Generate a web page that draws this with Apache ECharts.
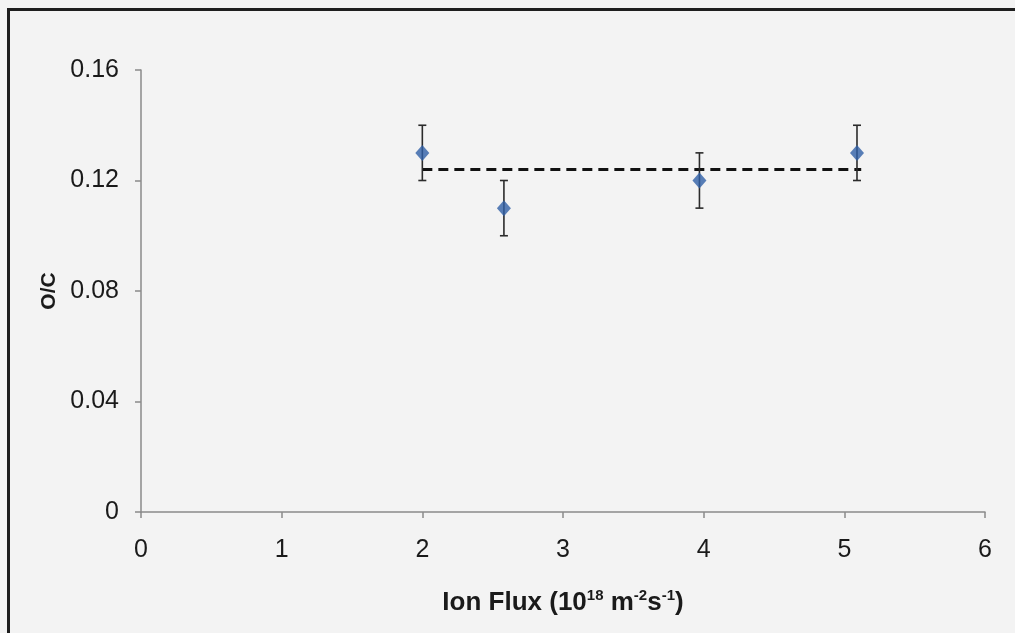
<!DOCTYPE html>
<html>
<head>
<meta charset="utf-8">
<script src="https://cdn.jsdelivr.net/npm/echarts@6/dist/echarts.min.js"></script>
<style>
  html, body { margin: 0; padding: 0; background: #f3f3f3; }
  #frame {
    position: absolute; left: 7px; top: 8px; width: 1015px; height: 633px;
    border-left: 3px solid #1e1e1e; border-top: 3px solid #1e1e1e;
    box-sizing: border-box;
  }
  #chart { position: absolute; left: 0; top: 0; width: 1015px; height: 633px; }
</style>
</head>
<body>
<div id="frame"></div>
<div id="chart"></div>
<script>
// Oxygen-to-carbon ratio against ion flux
const ionFlux = [2.0, 2.58, 3.97, 5.09];
const oxygenCarbon = [0.13, 0.11, 0.12, 0.13];
const ocError = [0.01, 0.01, 0.01, 0.01];
// mean level drawn as a dashed guide across the measured range
const meanFlux = [2.0, 5.12];
const meanLevel = [0.124, 0.124];
const xTicks = [0, 1, 2, 3, 4, 5, 6];
const yTicks = [0, 0.04, 0.08, 0.12, 0.16];

const points = ionFlux.map((x, i) => [x, oxygenCarbon[i]]);
const bars = ionFlux.map((x, i) => [x, oxygenCarbon[i] - ocError[i], oxygenCarbon[i] + ocError[i]]);
const meanLine = meanFlux.map((x, i) => [x, meanLevel[i]]);

const font = 'Liberation Sans, Arial, sans-serif';
const ink = '#1a1a1a';
const chart = echarts.init(document.getElementById('chart'));
chart.setOption({
  backgroundColor: 'transparent',
  animation: false,
  grid: { left: 141, right: 30, top: 70, bottom: 121 },
  xAxis: {
    type: 'value',
    min: xTicks[0], max: xTicks[xTicks.length - 1], interval: 1,
    name: '{m|Ion Flux (10}{s|18}{m| m}{s|-2}{m|s}{s|-1}{m|)}',
    nameLocation: 'middle', nameGap: 76,
    nameTextStyle: {
      rich: {
        m: { fontFamily: font, fontSize: 26, fontWeight: 'bold', color: ink, lineHeight: 30 },
        s: { fontFamily: font, fontSize: 15, fontWeight: 'bold', color: ink, lineHeight: 15, verticalAlign: 'top' }
      }
    },
    axisLine: { onZero: false, lineStyle: { color: '#8a8a8a', width: 1.5 } },
    axisTick: { show: true, length: 6, lineStyle: { color: '#8a8a8a', width: 1.5 } },
    axisLabel: { margin: 26, fontFamily: font, fontSize: 25, color: ink },
    splitLine: { show: false }
  },
  yAxis: {
    type: 'value',
    min: yTicks[0], max: yTicks[yTicks.length - 1], interval: 0.04,
    name: 'O/C',
    nameLocation: 'middle', nameGap: 80,
    nameTextStyle: { fontFamily: font, fontSize: 21, fontWeight: 'bold', color: ink },
    axisLine: { show: true, lineStyle: { color: '#8a8a8a', width: 1.5 } },
    axisTick: { show: true, length: 6, lineStyle: { color: '#8a8a8a', width: 1.5 } },
    axisLabel: {
      margin: 22, fontFamily: font, fontSize: 25, color: ink,
      formatter: v => (v === 0 ? '0' : v.toFixed(2))
    },
    splitLine: { show: false }
  },
  series: [
    {
      type: 'line',
      data: meanLine,
      symbol: 'none',
      lineStyle: { color: '#111', width: 3, type: [10, 6] },
      z: 2
    },
    {
      type: 'custom',
      data: bars,
      renderItem: (params, api) => {
        const x = api.value(0);
        const lo = api.coord([x, api.value(1)]);
        const hi = api.coord([x, api.value(2)]);
        const cap = 4;
        const style = { stroke: '#2b2b2b', lineWidth: 1.6 };
        return {
          type: 'group',
          children: [
            { type: 'line', shape: { x1: lo[0], y1: lo[1], x2: hi[0], y2: hi[1] }, style },
            { type: 'line', shape: { x1: hi[0] - cap, y1: hi[1], x2: hi[0] + cap, y2: hi[1] }, style },
            { type: 'line', shape: { x1: lo[0] - cap, y1: lo[1], x2: lo[0] + cap, y2: lo[1] }, style }
          ]
        };
      },
      z: 3
    },
    {
      type: 'scatter',
      data: points,
      symbol: 'diamond',
      symbolSize: [14, 16],
      itemStyle: { color: '#2f5fa6' },
      z: 4
    }
  ]
});
</script>
</body>
</html>
